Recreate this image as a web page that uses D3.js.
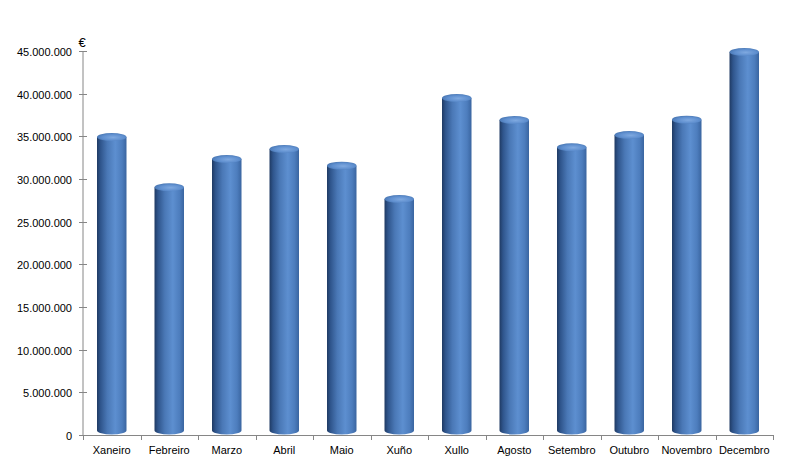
<!DOCTYPE html>
<html><head><meta charset="utf-8">
<script src="https://cdn.jsdelivr.net/npm/d3@7"></script>
<style>body{margin:0;background:#fff}svg{display:block}text{font-family:"Liberation Sans",Arial,sans-serif;fill:#000}</style>
</head><body><div id="c"></div>
<script>
const months = ["Xaneiro","Febreiro","Marzo","Abril","Maio","Xuño","Xullo","Agosto","Setembro","Outubro","Novembro","Decembro"];
const values = [34920000,29030000,32340000,33520000,31560000,27660000,39490000,36910000,33720000,35160000,36950000,44880000];
const yTicks = [0,5000000,10000000,15000000,20000000,25000000,30000000,35000000,40000000,45000000];
const unitLabel = "€";

const W=795,H=473;
const svg=d3.select("#c").append("svg").attr("width",W).attr("height",H);
const x=d3.scaleBand().domain(months).range([83,773]).paddingInner(0).paddingOuter(0);
const y=d3.scaleLinear().domain([0,45000000]).range([435,51]);
const fmt=v=>d3.format(",")(v).replace(/,/g,".");

const defs=svg.append("defs");
const g1=defs.append("linearGradient").attr("id","body").attr("x1","0").attr("x2","1").attr("y1","0").attr("y2","0");
[[0,"#1f3a63"],[0.12,"#2f558c"],[0.35,"#4a78b6"],[0.62,"#5d8fd0"],[0.85,"#4d7dbd"],[1,"#3a65a0"]].forEach(s=>g1.append("stop").attr("offset",s[0]).attr("stop-color",s[1]));
const g2=defs.append("radialGradient").attr("id","cap").attr("cx","0.55").attr("cy","0.55").attr("r","0.6");
[[0,"#7fa9e0"],[0.6,"#5f8fcf"],[1,"#4674b0"]].forEach(s=>g2.append("stop").attr("offset",s[0]).attr("stop-color",s[1]));

// axes
const ax=svg.append("g");
ax.append("line").attr("x1",83).attr("x2",83).attr("y1",y(45000000)).attr("y2",435).attr("stroke","#868686");
ax.append("line").attr("x1",83).attr("x2",773).attr("y1",435.5).attr("y2",435.5).attr("stroke","#868686");
yTicks.forEach(t=>{
  const yy=Math.round(y(t))+0.5;
  ax.append("line").attr("x1",79).attr("x2",87).attr("y1",yy).attr("y2",yy).attr("stroke","#868686");
  ax.append("text").attr("x",72).attr("y",yy+4).attr("text-anchor","end").style("font-size","11px").text(fmt(t));
});
const bounds=months.map(m=>x(m)).concat([773]);
bounds.forEach(b=>{
  const xx=Math.round(b)+0.5;
  ax.append("line").attr("x1",xx).attr("x2",xx).attr("y1",435).attr("y2",440).attr("stroke","#868686");
});
months.forEach(m=>{
  ax.append("text").attr("x",x(m)+x.bandwidth()/2).attr("y",454).attr("text-anchor","middle").style("font-size","11px").text(m);
});
ax.append("text").attr("x",82).attr("y",47).attr("text-anchor","middle").style("font-size","13px").text(unitLabel);

// bars as cylinders
const bw=29.5, ry=4;
const bars=svg.append("g");
months.forEach((m,i)=>{
  const cx=x(m)+x.bandwidth()/2;
  const top=y(values[i]);
  const bot=y(0)-ry-0.5;
  const gg=bars.append("g");
  gg.append("path").attr("d",`M${cx-bw/2},${top} L${cx-bw/2},${bot} A${bw/2},${ry} 0 0 0 ${cx+bw/2},${bot} L${cx+bw/2},${top} Z`).attr("fill","url(#body)");
  gg.append("ellipse").attr("cx",cx).attr("cy",top).attr("rx",bw/2).attr("ry",ry).attr("fill","url(#cap)");
});
</script></body></html>
